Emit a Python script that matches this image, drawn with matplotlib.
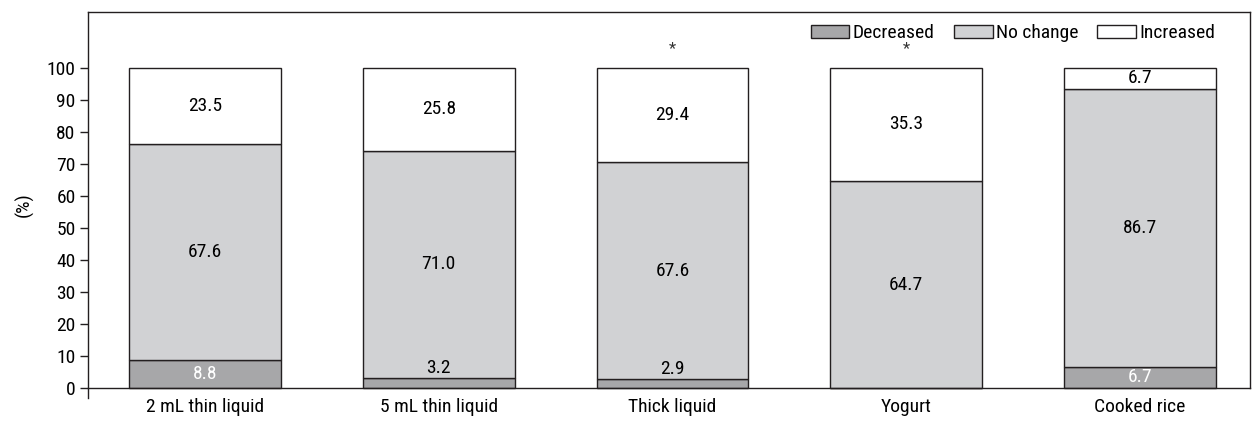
import numpy as np
import matplotlib
matplotlib.use('Agg')
import matplotlib.pyplot as plt
from matplotlib.patches import Patch

plt.rcParams['font.family'] = ['Roboto Condensed', 'DejaVu Sans']
plt.rcParams['font.size'] = 14

# Donnees
categories = ['2 mL thin liquid', '5 mL thin liquid', 'Thick liquid', 'Yogurt', 'Cooked rice']
decreased = [8.8, 3.2, 2.9, 0.0, 6.7]
no_change = [67.6, 71.0, 67.6, 64.7, 86.7]
increased = [23.5, 25.8, 29.4, 35.3, 6.7]
significant = [False, False, True, True, False]
yticks = list(range(0, 101, 10))

c_dec = '#a7a7a9'
c_nc = '#d1d2d4'
c_inc = '#ffffff'
edge = '#231f20'

fig = plt.figure(figsize=(12.52, 4.22), dpi=100)
ax = fig.add_axes([0.0703, 0.0569, 0.9281, 0.9147])

x = np.arange(len(categories))
w = 0.65
dec = np.array(decreased)
nc = np.array(no_change)
inc = np.array(increased)

ax.bar(x, dec, w, color=c_dec, edgecolor=edge, linewidth=1)
ax.bar(x, nc, w, bottom=dec, color=c_nc, edgecolor=edge, linewidth=1)
ax.bar(x, inc, w, bottom=dec + nc, color=c_inc, edgecolor=edge, linewidth=1)

fs = 14
for i in range(len(categories)):
    # diminution : blanc dans la barre, noir au-dessus si trop fine
    if dec[i] > 5:
        ax.text(x[i], dec[i] / 2, f'{dec[i]:.1f}', ha='center', va='center', color='white', fontsize=fs)
    elif dec[i] > 0:
        ax.text(x[i], dec[i] + 0.3, f'{dec[i]:.1f}', ha='center', va='bottom', color='black', fontsize=fs)
    ax.text(x[i], dec[i] + nc[i] / 2, f'{nc[i]:.1f}', ha='center', va='center', fontsize=fs)
    ax.text(x[i], dec[i] + nc[i] + inc[i] / 2, f'{inc[i]:.1f}', ha='center', va='center', fontsize=fs)
    if significant[i]:
        ax.text(x[i], 106.0, '*', ha='center', va='center', fontsize=fs - 2, color='#333333')

ax.set_xlim(-0.5, 4.47)
ax.set_ylim(-3.1, 117.5)
ax.set_yticks(yticks)
ax.set_yticklabels([str(t) for t in yticks])
ax.set_xticks(x)
ax.set_xticklabels(categories)
ax.tick_params(axis='x', length=0, pad=7, labelsize=fs)
ax.tick_params(axis='y', length=6, width=1, color=edge, pad=3, labelsize=fs)
ax.spines['bottom'].set_position(('data', 0))
ax.spines['right'].set_bounds(0, 117.5)
for s in ax.spines.values():
    s.set_color(edge)
    s.set_linewidth(1)
ax.set_ylabel('(%)', fontsize=fs, labelpad=9)

handles = [Patch(facecolor=c_dec, edgecolor=edge, label='Decreased'),
           Patch(facecolor=c_nc, edgecolor=edge, label='No change'),
           Patch(facecolor=c_inc, edgecolor=edge, label='Increased')]
ax.legend(handles=handles, loc='center right', ncol=3, frameon=False, fontsize=fs,
          handlelength=2.0, handleheight=0.6, handletextpad=0.15, columnspacing=1.0,
          borderpad=0, borderaxespad=0, bbox_to_anchor=(0.970, 0.945))

fig.savefig('out.png', dpi=100)
